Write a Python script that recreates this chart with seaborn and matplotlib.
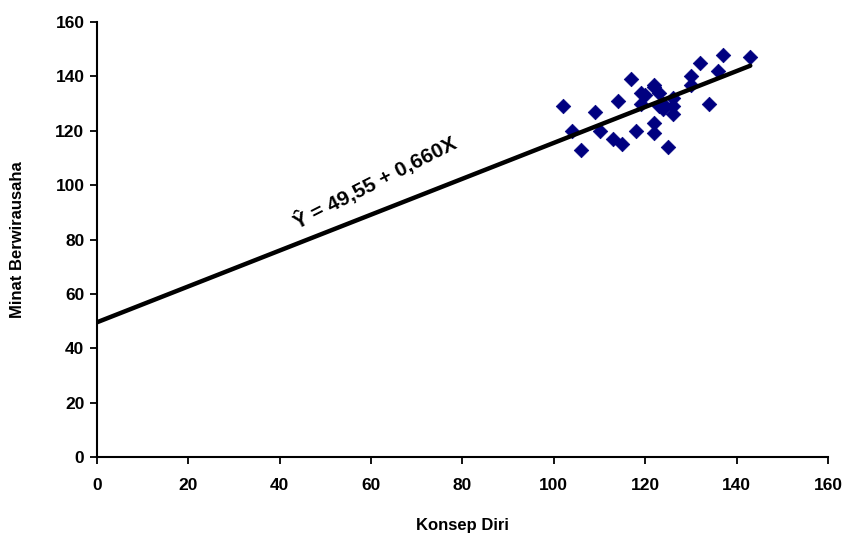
import matplotlib
matplotlib.use("Agg")
import matplotlib.pyplot as plt
import seaborn as sns
import numpy as np
import pandas as pd

konsep_diri = [102, 104, 106, 109, 110, 113, 114, 115, 117, 118, 119, 119, 120, 122, 122, 122,
               123, 123, 124, 124, 125, 126, 126, 126, 130, 130, 132, 134, 136, 137, 143, 122]
minat = [129, 120, 113, 127, 120, 117, 131, 115, 139, 120, 134, 130, 133, 136, 123, 119,
         134, 129, 128, 130, 114, 132, 126, 129, 140, 137, 145, 130, 142, 148, 147, 137]
intercept = 49.55
slope = 0.660
line_x = [0, 143]
x_ticks = [0, 20, 40, 60, 80, 100, 120, 140, 160]
y_ticks = [0, 20, 40, 60, 80, 100, 120, 140, 160]

sns.set_style("white")
plt.rcParams['font.family'] = ['Liberation Sans', 'DejaVu Sans']
plt.rcParams['text.color'] = 'black'
plt.rcParams['axes.labelcolor'] = 'black'
plt.rcParams['xtick.color'] = 'black'
plt.rcParams['ytick.color'] = 'black'

df = pd.DataFrame({"Konsep Diri": konsep_diri, "Minat Berwirausaha": minat})

fig = plt.figure(figsize=(8.47, 5.37), dpi=100)
ax = fig.add_axes([0.1145, 0.149, 0.863, 0.810])

sns.scatterplot(data=df, x="Konsep Diri", y="Minat Berwirausaha", ax=ax,
                marker="D", s=55, color="#000080", edgecolor="#000080", linewidth=0.5, zorder=3)
lx = np.array(line_x, dtype=float)
sns.lineplot(x=lx, y=intercept + slope * lx, ax=ax, color="black", linewidth=3.2, zorder=4)

ax.set_xlim(0, 160)
ax.set_ylim(0, 160)
ax.set_xticks(x_ticks)
ax.set_yticks(y_ticks)
ax.tick_params(axis="both", direction="out", length=5, width=1.3, color="black",
               labelsize=12.5, bottom=True, left=True, labelcolor="black")
ax.tick_params(axis="x", pad=10)
ax.tick_params(axis="y", pad=4)
for lab in ax.get_xticklabels() + ax.get_yticklabels():
    lab.set_fontweight("bold")
for side in ["top", "right"]:
    ax.spines[side].set_visible(False)
for side in ["left", "bottom"]:
    ax.spines[side].set_color("black")
    ax.spines[side].set_linewidth(1.5)

ax.set_xlabel("Konsep Diri", fontsize=12, fontweight="bold", labelpad=18, color="black")
ax.set_ylabel("Minat Berwirausaha", fontsize=12, fontweight="bold", labelpad=22, color="black")

ax.text(60.8, 101, "Ŷ = 49,55 + 0,660X", rotation=27, ha="center", va="center",
        fontsize=15, fontweight="bold", color="black",
        family=["Liberation Sans Narrow", "Liberation Sans", "DejaVu Sans"])

fig.savefig("out.png", dpi=100)
